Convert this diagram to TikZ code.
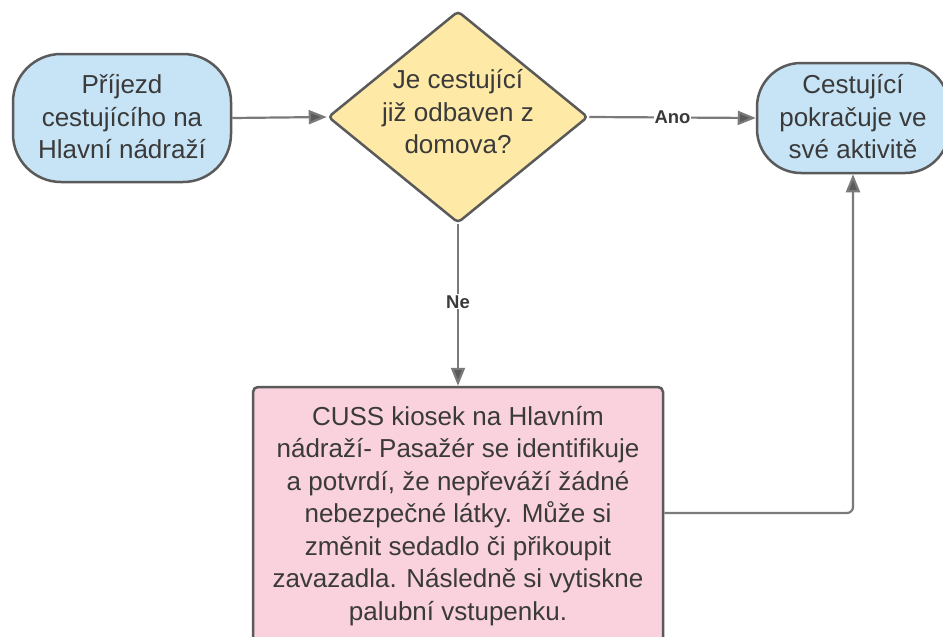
\documentclass[tikz,border=0pt]{standalone}
\usepackage{fontspec}
\setmainfont{Liberation Sans}
\usetikzlibrary{arrows.meta,shapes.geometric}
\definecolor{bluefill}{HTML}{C7E4F6}
\definecolor{yellowfill}{HTML}{FEE9A6}
\definecolor{pinkfill}{HTML}{F9D2DD}
\definecolor{outline}{HTML}{5A5A5A}
\definecolor{conn}{HTML}{7A7A7A}
\definecolor{txt}{HTML}{3A3A3A}
\tikzset{
  boxtext/.style={font=\fontsize{26}{32.5}\selectfont, text=txt, align=center},
  terminal/.style={draw=outline, line width=2.5pt, fill=bluefill, rounded corners=48pt, inner sep=0pt},
  decision/.style={draw=outline, line width=2.5pt, fill=yellowfill, diamond, rounded corners=4pt, inner sep=0pt},
  process/.style={draw=outline, line width=2.5pt, fill=pinkfill, rounded corners=5pt, inner sep=0pt},
  flow/.style={draw=conn, line width=2.2pt, -{Triangle[length=18pt,width=14pt,fill=outline]}},
  lbl/.style={font=\fontsize{18.5}{20}\selectfont\bfseries, text=txt, fill=white, inner sep=1pt}
}
\begin{document}
\begin{tikzpicture}[x=1pt,y=-1pt]
\useasboundingbox (0,0) rectangle (943,637);
\fill[white] (0,0) rectangle (943,637);
\node[terminal, minimum width=218pt, minimum height=128pt] (start) at (122,118) {};
\node[boxtext] (startt) at (122,117) {Příjezd\\cestujícího na\\Hlavní nádraží};
\node[decision, minimum width=260pt, minimum height=212pt] (dec) at (458,117) {};
\node[boxtext] (dect) at (458,112) {Je cestující\\již odbaven z\\domova?};
\node[terminal, minimum width=192pt, minimum height=110pt, rounded corners=44pt] (end) at (853,118) {};
\node[boxtext] (endt) at (853,117) {Cestující\\pokračuje ve\\své aktivitě};
\node[process, minimum width=410pt, minimum height=256pt] (proc) at (458,515) {};
\node[boxtext] (proct) at (458,516) {CUSS kiosek na Hlavním\\nádraží- Pasažér se identifikuje\\a potvrdí, že nepřeváží žádné\\nebezpečné látky. Může si\\změnit sedadlo či přikoupit\\zavazadla. Následně si vytiskne\\palubní vstupenku.};
\draw[flow] (start.east) -- (dec.west);
\draw[flow] (dec.east) -- node[lbl] (ano) {Ano} (end.west);
\draw[flow] (dec.south) -- node[lbl, pos=0.48] (ne) {Ne} (proc.north);
\draw[flow, rounded corners=6pt] (proc.east |- 0,513) -| (end.south);
\end{tikzpicture}
\end{document}
